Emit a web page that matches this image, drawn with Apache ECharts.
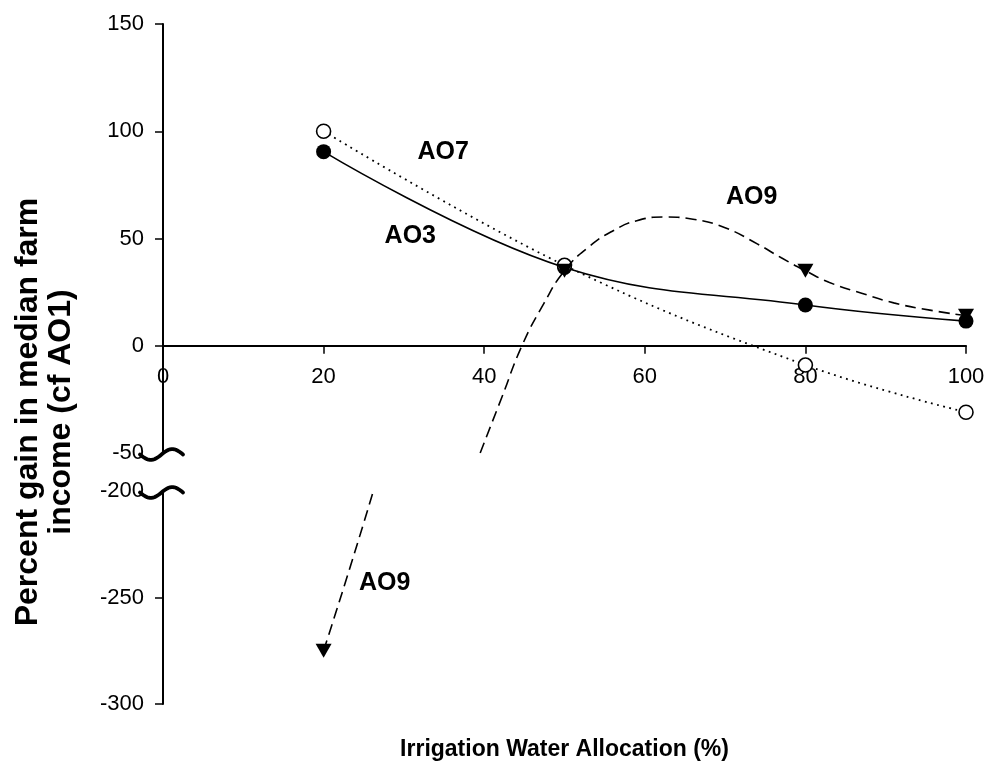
<!DOCTYPE html>
<html><head><meta charset="utf-8">
<script src="https://cdn.jsdelivr.net/npm/echarts@6/dist/echarts.min.js"></script>
<style>html,body{margin:0;padding:0;background:#fff}#c{width:988px;height:771px}</style>
</head><body><div id="c"></div>
<script>
// ---- data ----
const xValues = [20, 50, 80, 100];
const ao3Values = [90.5, 36.5, 19, 11.5];
const ao7Values = [100, 37.5, -9, -31];
const ao9Values = [-275, 35, 35, 14];
// AO9 fitted curve as drawn in the picture
const ao9CurveX = [20, 23.2, 26.2, 39.5, 42.2, 44.7, 47.4, 50, 53, 56, 59, 62.5, 66, 70, 74, 77, 80, 83, 87, 91, 95.5, 100];
const ao9CurveY = [-275, -237, -200, -50, -24, 0, 19.5, 35, 46, 53.5, 58.3, 60, 59, 55, 47.5, 41, 35, 29.5, 24.5, 20, 16.6, 14];
const upperTickValues = [0, 50, 100, 150];
const lowerTickValues = [-300, -250];
const seriesNames = ['AO3', 'AO7', 'AO9'];
const xTitle = 'Irrigation Water Allocation (%)';
const yTitle = 'Percent gain in median farm\nincome (cf AO1)';

// ---- ranges of the broken axis ----
const upperRange = [-50, 150];
const lowerRange = [-300, -200];
const xRange = [0, 100];

const FONT = "'Liberation Sans', Arial, Helvetica, sans-serif";
const chart = echarts.init(document.getElementById('c'));

const pairs = (xs, ys) => xs.map((x, i) => [x, ys[i]]);
const inRange = (r) => (p) => p[1] >= r[0] && p[1] <= r[1];

const ao9Pts = pairs(xValues, ao9Values);
const ao9Curve = pairs(ao9CurveX, ao9CurveY);

const tickLabel = { fontSize: 22, color: '#000', fontFamily: FONT };
const upperGrid = { left: 163, right: 22, top: 24, height: 429 };
const lowerGrid = { left: 163, right: 22, top: 491, height: 213 };
// x axis sits on y = 0 of the upper panel (offset derived from the scale)
const xAxisOffset = -upperGrid.height * (0 - upperRange[0]) / (upperRange[1] - upperRange[0]);

const option = {
  animation: false,
  backgroundColor: '#fff',
  grid: [upperGrid, lowerGrid],
  xAxis: [
    {
      gridIndex: 0, type: 'value', min: xRange[0], max: xRange[1], interval: 20,
      position: 'bottom', offset: xAxisOffset,
      axisLine: { show: true, onZero: false, lineStyle: { color: '#000', width: 2 } },
      axisTick: { show: true, inside: false, length: 8, lineStyle: { color: '#000', width: 1.5 } },
      axisLabel: Object.assign({ margin: 20, showMinLabel: true, showMaxLabel: true }, tickLabel),
      splitLine: { show: false }
    },
    { gridIndex: 1, type: 'value', min: xRange[0], max: xRange[1], show: false }
  ],
  yAxis: [
    {
      gridIndex: 0, type: 'value', min: upperRange[0], max: upperRange[1], interval: 50,
      axisLine: { show: true, onZero: false, lineStyle: { color: '#000', width: 2 } },
      axisTick: { show: true, length: 8, customValues: upperTickValues, lineStyle: { color: '#000', width: 1.5 } },
      axisLabel: Object.assign({ margin: 19 }, tickLabel),
      splitLine: { show: false }
    },
    {
      gridIndex: 1, type: 'value', min: lowerRange[0], max: lowerRange[1], interval: 50,
      axisLine: { show: true, onZero: false, lineStyle: { color: '#000', width: 2 } },
      axisTick: { show: true, length: 8, customValues: lowerTickValues, lineStyle: { color: '#000', width: 1.5 } },
      axisLabel: Object.assign({ margin: 19 }, tickLabel),
      splitLine: { show: false }
    }
  ],
  series: [
    {
      name: seriesNames[0], type: 'line', xAxisIndex: 0, yAxisIndex: 0,
      data: pairs(xValues, ao3Values), smooth: 0.4,
      lineStyle: { color: '#000', width: 1.6, type: 'solid' },
      symbol: 'circle', symbolSize: 15, showSymbol: true,
      itemStyle: { color: '#000', opacity: 1 }, z: 3
    },
    {
      name: seriesNames[1], type: 'line', xAxisIndex: 0, yAxisIndex: 0,
      data: pairs(xValues, ao7Values), smooth: 0.4,
      lineStyle: { color: '#000', width: 1.8, type: [1.8, 4.5] },
      symbol: 'circle', symbolSize: 14, showSymbol: true,
      itemStyle: { color: '#fff', borderColor: '#000', borderWidth: 1.6, opacity: 1 }, z: 4
    },
    {
      name: seriesNames[2] + ' curve', type: 'line', xAxisIndex: 0, yAxisIndex: 0,
      data: ao9Curve.filter(inRange(upperRange)), smooth: 0.5, clip: true,
      lineStyle: { color: '#000', width: 1.6, type: [11, 6] },
      symbol: 'none', z: 5
    },
    {
      name: seriesNames[2] + ' curve low', type: 'line', xAxisIndex: 1, yAxisIndex: 1,
      data: ao9Curve.filter(inRange(lowerRange)), smooth: 0.5, clip: true,
      lineStyle: { color: '#000', width: 1.6, type: [11, 6] },
      symbol: 'none', z: 5
    },
    {
      name: seriesNames[2], type: 'scatter', xAxisIndex: 0, yAxisIndex: 0,
      data: ao9Pts.filter(inRange(upperRange)),
      symbol: 'triangle', symbolRotate: 180, symbolSize: [16, 14],
      itemStyle: { color: '#000', opacity: 1 }, z: 6
    },
    {
      name: seriesNames[2] + ' low', type: 'scatter', xAxisIndex: 1, yAxisIndex: 1,
      data: ao9Pts.filter(inRange(lowerRange)),
      symbol: 'triangle', symbolRotate: 180, symbolSize: [16, 14],
      itemStyle: { color: '#000', opacity: 1 }, z: 6
    }
  ]
};
chart.setOption(option);

// ---- annotations (placed in data units) ----
const seriesLabels = [
  { text: 'AO7', grid: 0, at: [34.9, 90.3] },
  { text: 'AO3', grid: 0, at: [30.8, 51.1] },
  { text: 'AO9', grid: 0, at: [73.3, 69.3] },
  { text: 'AO9', grid: 1, at: [27.6, -243.2] }
];
const toPx = (g, p) => chart.convertToPixel({ gridIndex: g }, p);

const graphics = [];
seriesLabels.forEach(l => {
  const p = toPx(l.grid, l.at);
  graphics.push({
    type: 'text', x: p[0], y: p[1], z: 10,
    style: { text: l.text, fill: '#000', font: 'bold 25px ' + FONT,
      align: 'center', verticalAlign: 'middle', textAlign: 'center', textVerticalAlign: 'middle' }
  });
});

// break marks on the y axis
[[0, upperRange[0]], [1, lowerRange[1]]].forEach(([g, v]) => {
  const p = toPx(g, [0, v]);
  const pts = [];
  for (let i = 0; i <= 30; i++) {
    const t = i / 30;
    pts.push([p[0] - 23 + 43 * t, p[1] + 1.5 + 5.5 * Math.sin(2 * Math.PI * t)]);
  }
  graphics.push({
    type: 'polyline', z: 10, shape: { points: pts, smooth: 0 },
    style: { stroke: '#000', lineWidth: 3.8, fill: null, lineCap: 'round', lineJoin: 'round' }
  });
});

// axis titles
const gl = toPx(0, [xRange[0], 0]), gr = toPx(0, [xRange[1], 0]);
graphics.push({
  type: 'text', x: (gl[0] + gr[0]) / 2, y: 750, z: 10,
  style: { text: xTitle, fill: '#000', font: 'bold 23px ' + FONT,
    align: 'center', verticalAlign: 'middle', textAlign: 'center', textVerticalAlign: 'middle' }
});
graphics.push({
  type: 'text', x: 45, y: 412, rotation: Math.PI / 2, z: 10,
  style: { text: yTitle, fill: '#000', font: 'bold 32px ' + FONT, lineHeight: 33,
    align: 'center', verticalAlign: 'middle', textAlign: 'center', textVerticalAlign: 'middle' }
});
chart.setOption({ graphic: graphics });
</script>
</body></html>
